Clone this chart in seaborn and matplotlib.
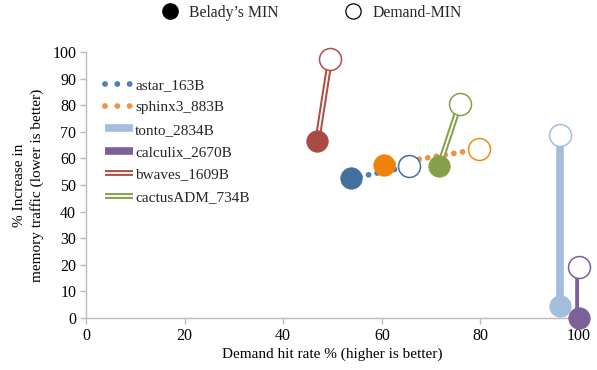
import matplotlib
matplotlib.use("Agg")
import matplotlib.pyplot as plt
from matplotlib.lines import Line2D
from matplotlib.legend_handler import HandlerTuple
import seaborn as sns
import pandas as pd

benchmarks = ["astar_163B", "sphinx3_883B", "tonto_2834B", "calculix_2670B", "bwaves_1609B", "cactusADM_734B"]
belady_hit = [53.8, 60.5, 96.1, 100.0, 46.9, 71.6]
belady_traffic = [52.5, 57.5, 4.5, 0.0, 66.5, 57.0]
demand_hit = [65.6, 79.7, 96.1, 100.0, 49.5, 75.8]
demand_traffic = [57.0, 63.5, 69.0, 19.0, 97.5, 80.5]

line_colors = ["#4F7FB5", "#E8964A", "#A3BDDD", "#7D6199", "#B04E48", "#86A04A"]
marker_colors = ["#44709F", "#EF8208", "#A3BDDD", "#7D6199", "#A84B45", "#86A04A"]
open_colors = ["#44709F", "#EF8A20", "#A3BDDD", "#7D6199", "#B04E48", "#86A04A"]
styles = ["dots", "dots", "thick", "thick", "double", "double"]

sns.set_theme(style="white")
plt.rcParams["font.family"] = ["Liberation Serif", "DejaVu Serif"]

fig = plt.figure(figsize=(5.97, 3.70), dpi=100)
ax = fig.add_axes([0.144, 0.141, 0.826, 0.718])

rows = []
for i, b in enumerate(benchmarks):
    rows.append(dict(bench=b, kind="Belady", x=belady_hit[i], y=belady_traffic[i]))
    rows.append(dict(bench=b, kind="Demand", x=demand_hit[i], y=demand_traffic[i]))
df = pd.DataFrame(rows)

DOT = (0, (0.01, 1.5))
handles = []
for i, b in enumerate(benchmarks):
    sub = df[df.bench == b]
    st = styles[i]
    c = line_colors[i]
    if st == "dots":
        sns.lineplot(data=sub, x="x", y="y", sort=False, ax=ax, color=c, lw=4.2,
                     linestyle=DOT, zorder=2, estimator=None)
        ax.lines[-1].set_dash_capstyle("round")
        h = Line2D([], [], color=c, lw=4.2, linestyle=(0, (0.01, 2.1)), dash_capstyle="round")
    elif st == "thick":
        sns.lineplot(data=sub, x="x", y="y", sort=False, ax=ax, color=c, lw=5.5,
                     zorder=2, estimator=None)
        h = Line2D([], [], color=c, lw=5.5, solid_capstyle="butt")
    else:
        sns.lineplot(data=sub, x="x", y="y", sort=False, ax=ax, color=c, lw=4.2,
                     zorder=2, estimator=None)
        ax.lines[-1].set_solid_capstyle("butt")
        sns.lineplot(data=sub, x="x", y="y", sort=False, ax=ax, color="white", lw=1.3,
                     zorder=2.1, estimator=None)
        ax.lines[-1].set_solid_capstyle("butt")
        h = (Line2D([], [], color=c, lw=4.2, solid_capstyle="butt"),
             Line2D([], [], color="white", lw=1.3, solid_capstyle="butt"))
    handles.append(h)

for i, b in enumerate(benchmarks):
    sub = df[df.bench == b]
    bel = sub[sub.kind == "Belady"]
    dem = sub[sub.kind == "Demand"]
    sns.scatterplot(data=bel, x="x", y="y", ax=ax, s=240, color=marker_colors[i],
                    edgecolor=marker_colors[i], linewidth=0.5, zorder=3, legend=False)
    sns.scatterplot(data=dem, x="x", y="y", ax=ax, s=250, facecolor="white",
                    edgecolor=open_colors[i], linewidth=1.1, zorder=3, legend=False)
for c in ax.collections:
    c.set_clip_on(False)

ax.set_xlim(0, 100)
ax.set_ylim(0, 100)
ax.set_xticks(range(0, 101, 20))
ax.set_yticks(range(0, 101, 10))
for s in ["top", "right"]:
    ax.spines[s].set_visible(False)
for s in ["left", "bottom"]:
    ax.spines[s].set_color("#BBBBBB")
    ax.spines[s].set_linewidth(1.0)
ax.tick_params(axis="both", which="both", direction="out", length=4, width=1.0,
               color="#BBBBBB", labelsize=11.5, labelcolor="black", pad=3)
ax.tick_params(left=True, bottom=True)
ax.set_xlabel("Demand hit rate % (higher is better)", fontsize=11, color="black", labelpad=3)
ax.set_ylabel("% Increase in\nmemory traffic (lower is better)", fontsize=11, color="black",
              labelpad=6, linespacing=1.35)

ax.legend(handles, benchmarks, handler_map={tuple: HandlerTuple(ndivide=1)},
          loc="upper left", bbox_to_anchor=(0.027, 0.925), frameon=False, fontsize=11,
          handlelength=1.8, handletextpad=0.15, labelspacing=0.57, borderaxespad=0)

top_handles = [Line2D([], [], marker="o", color="black", linestyle="none", markersize=11),
               Line2D([], [], marker="o", markerfacecolor="white", markeredgecolor="black",
                      markeredgewidth=0.9, linestyle="none", markersize=11)]
fig.legend(top_handles, ["Belady\u2019s MIN", "Demand-MIN"], loc="center",
           bbox_to_anchor=(0.522, 0.965), ncol=2, frameon=False, fontsize=11.3,
           columnspacing=4.3, handlelength=1.0, handletextpad=0.7)

fig.savefig("out.png", dpi=100)
